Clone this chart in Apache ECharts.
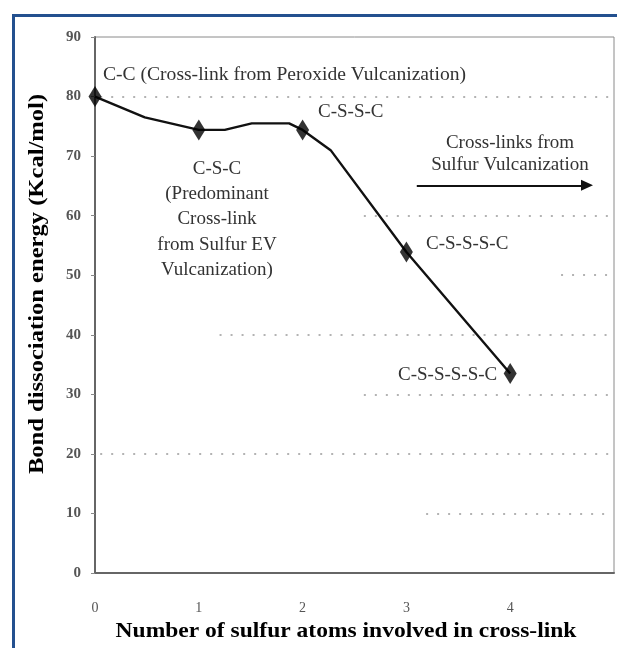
<!DOCTYPE html>
<html>
<head>
<meta charset="utf-8">
<script src="https://cdn.jsdelivr.net/npm/echarts@6/dist/echarts.min.js"></script>
<style>
html,body{margin:0;padding:0;background:#fff;}
#chart{width:617px;height:648px;}
</style>
</head>
<body>
<div id="chart"></div>
<script>
// ---- data ----
const yTicks = [0, 10, 20, 30, 40, 50, 60, 70, 80, 90];
const xTickLabels = ['0', '1', '2', '3', '4'];
// traced curve (number of S atoms, kcal/mol)
const curveX = [0, 0.48, 1, 1.25, 1.51, 1.87, 2, 2.27, 3, 4];
const curveY = [80, 76.5, 74.4, 74.4, 75.5, 75.5, 74.4, 71.0, 53.9, 33.5];
// marked cross-link types
const markerX = [0, 1, 2, 3, 4];
const markerY = [80, 74.4, 74.4, 53.9, 33.5];
const markerNames = ['C-C', 'C-S-C', 'C-S-S-C', 'C-S-S-S-C', 'C-S-S-S-S-C'];
// visible pieces of the dotted gridlines: [value, fromX, toX]
const gridPieces = [[80, 0.05, 4.98], [60, 2.59, 4.98], [50, 4.49, 4.98], [40, 1.2, 4.98],
                    [30, 2.59, 4.98], [20, 0.05, 4.98], [10, 3.19, 4.98]];
// arrow "Cross-links from Sulfur Vulcanization": [fromX, toX, y]
const arrowSpan = [3.1, 4.74, 65.1];

const serif = '"Liberation Serif","DejaVu Serif",serif';
const chart = echarts.init(document.getElementById('chart'), null, {renderer: 'canvas'});

const option = {
  backgroundColor: '#fff',
  animation: false,
  grid: {left: 95, right: 1, top: 37, bottom: 75, show: true, borderColor: '#8a8a8a', borderWidth: 1},
  xAxis: {
    type: 'value', min: 0, max: 5, interval: 1,
    axisLine: {show: true, onZero: false, lineStyle: {color: '#666', width: 2}},
    axisTick: {show: false},
    splitLine: {show: false},
    axisLabel: {
      margin: 28, fontFamily: serif, fontSize: 14, color: '#555',
      formatter: v => (v < xTickLabels.length ? xTickLabels[v] : '')
    }
  },
  yAxis: {
    type: 'value', min: 0, max: 90, interval: 10,
    axisLine: {show: true, lineStyle: {color: '#666', width: 2}},
    axisTick: {show: true, length: 4, lineStyle: {color: '#888'}},
    splitLine: {show: false},
    axisLabel: {margin: 14, fontFamily: serif, fontSize: 15, fontWeight: 'bold', color: '#555',
      formatter: v => String(yTicks[yTicks.indexOf(v)])}
  },
  series: [
    {
      type: 'line',
      data: curveX.map((x, i) => [x, curveY[i]]),
      symbol: 'none',
      lineStyle: {color: '#111', width: 2.4},
      z: 3,
      markLine: {
        silent: true, symbol: 'none', label: {show: false},
        lineStyle: {color: '#9a9a9a', width: 1.5, type: [2, 9]},
        data: gridPieces.map(p => [{coord: [p[1], p[0]]}, {coord: [p[2], p[0]]}]),
        z: 1
      }
    },
    {
      type: 'scatter',
      data: markerX.map((x, i) => ({name: markerNames[i], value: [x, markerY[i]]})),
      symbol: 'diamond',
      symbolSize: [13, 21],
      itemStyle: {color: '#000'},
      z: 4,
      markLine: {
        silent: true,
        symbol: ['none', 'triangle'], symbolSize: [11, 12],
        label: {show: false},
        lineStyle: {color: '#111', width: 2, type: 'solid'},
        data: [[{coord: [arrowSpan[0], arrowSpan[2]]}, {coord: [arrowSpan[1], arrowSpan[2]]}]]
      }
    }
  ],
  graphic: [
    // blue frame
    {type: 'rect', shape: {x: 12, y: 14, width: 620, height: 3}, style: {fill: '#23508f'}, silent: true},
    {type: 'rect', shape: {x: 12, y: 14, width: 3, height: 640}, style: {fill: '#23508f'}, silent: true},
    // axis titles
    {type: 'text', x: 38, y: 284, rotation: Math.PI / 2, scaleX: 1.17,
      style: {text: 'Bond dissociation energy (Kcal/mol)', font: 'bold 21px ' + serif, fill: '#000',
        textAlign: 'center', textVerticalAlign: 'middle'}},
    {type: 'text', x: 346, y: 632, scaleX: 1.12,
      style: {text: 'Number of sulfur atoms involved in cross-link', font: 'bold 21px ' + serif, fill: '#000',
        textAlign: 'center', textVerticalAlign: 'middle'}},
    // annotations
    {type: 'text', x: 103, y: 75, scaleX: 1.03,
      style: {text: 'C-C (Cross-link from Peroxide Vulcanization)', font: '19px ' + serif, fill: '#333',
        textAlign: 'left', textVerticalAlign: 'middle'}},
    {type: 'text', x: 217, y: 156,
      style: {text: 'C-S-C\n(Predominant\nCross-link\nfrom Sulfur EV\nVulcanization)', font: '19px ' + serif,
        fill: '#333', textAlign: 'center', textVerticalAlign: 'top', lineHeight: 25.3}},
    {type: 'text', x: 318, y: 112,
      style: {text: 'C-S-S-C', font: '19px ' + serif, fill: '#333', textAlign: 'left', textVerticalAlign: 'middle'}},
    {type: 'text', x: 510, y: 132,
      style: {text: 'Cross-links from\nSulfur Vulcanization', font: '19px ' + serif, fill: '#333',
        textAlign: 'center', textVerticalAlign: 'top', lineHeight: 22}},
    {type: 'text', x: 426, y: 244,
      style: {text: 'C-S-S-S-C', font: '19px ' + serif, fill: '#333', textAlign: 'left', textVerticalAlign: 'middle'}},
    {type: 'text', x: 398, y: 375,
      style: {text: 'C-S-S-S-S-C', font: '19px ' + serif, fill: '#333', textAlign: 'left', textVerticalAlign: 'middle'}}
  ]
};
chart.setOption(option);
</script>
</body>
</html>
